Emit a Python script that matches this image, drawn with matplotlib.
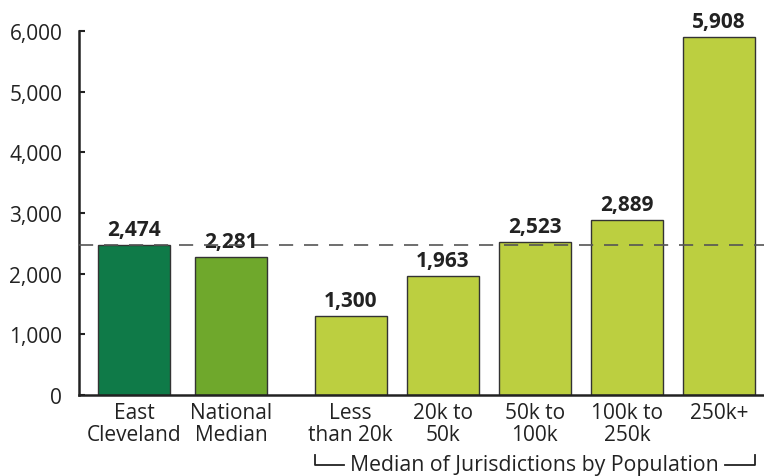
import matplotlib
matplotlib.use("Agg")
import matplotlib.pyplot as plt
import matplotlib.transforms as mtransforms

plt.rcParams["font.family"] = ["Open Sans", "DejaVu Sans"]

# ── data ──────────────────────────────────────────────────────────────────────
labels = ["East\nCleveland", "National\nMedian", "Less\nthan 20k", "20k to\n50k",
          "50k to\n100k", "100k to\n250k", "250k+"]
values = [2474, 2281, 1300, 1963, 2523, 2889, 5908]
positions = [0, 1.05, 2.35, 3.35, 4.35, 5.35, 6.35]
colors = ["#0f7a48", "#6fa82c", "#bccf40", "#bccf40", "#bccf40", "#bccf40", "#bccf40"]
REF = 2474                  # East Cleveland reference line
GROUP_LABEL = "Median of Jurisdictions by Population"

WIDTH = 0.78
INK = "#222222"
FS = 15

fig = plt.figure(figsize=(7.64, 4.77), dpi=100)
ax = fig.add_axes([0.1034, 0.1698, 0.8966, 0.7631])

ax.bar(positions, values, WIDTH, color=colors, edgecolor="#333333", linewidth=1.0, zorder=2)
for x, v in zip(positions, values):
    ax.text(x, v + 80, f"{v:,}", ha="center", va="bottom", fontsize=FS,
            fontweight="bold", color=INK)

ax.axhline(REF, color="#555555", linewidth=1.2, dashes=(8.5, 6.5), zorder=3)

ax.set_xlim(-0.60, 6.84)
ax.set_ylim(0, 6000)
ax.set_yticks(range(0, 6001, 1000))
ax.set_yticklabels([f"{t:,}" for t in range(0, 6001, 1000)])
ax.set_xticks(positions)
ax.set_xticklabels(labels, linespacing=1.05)

ax.tick_params(axis="y", direction="in", length=4, width=1.5, color=INK,
               labelsize=FS, labelcolor=INK, pad=12)
ax.tick_params(axis="x", length=0, labelsize=FS, labelcolor=INK, pad=5)
for side in ["top", "right"]:
    ax.spines[side].set_visible(False)
for side in ["left", "bottom"]:
    ax.spines[side].set_linewidth(1.8)
    ax.spines[side].set_color(INK)

# ── group bracket under the population bars ───────────────────────────────────
trans = mtransforms.blended_transform_factory(ax.transData, ax.transAxes)
x0 = positions[2] - WIDTH / 2
x1 = positions[-1] + WIDTH / 2
xm = (x0 + x1) / 2
y_line, y_tick = -0.192, -0.165
ax.plot([x0, x0, x0 + 0.32], [y_tick, y_line, y_line], color=INK, lw=1.3,
        transform=trans, clip_on=False)
ax.plot([x1 - 0.32, x1, x1], [y_line, y_line, y_tick], color=INK, lw=1.3,
        transform=trans, clip_on=False)
ax.text(xm, y_line, GROUP_LABEL, ha="center", va="center", fontsize=15.3,
        color=INK, transform=trans)

fig.savefig("out.png", dpi=100)
